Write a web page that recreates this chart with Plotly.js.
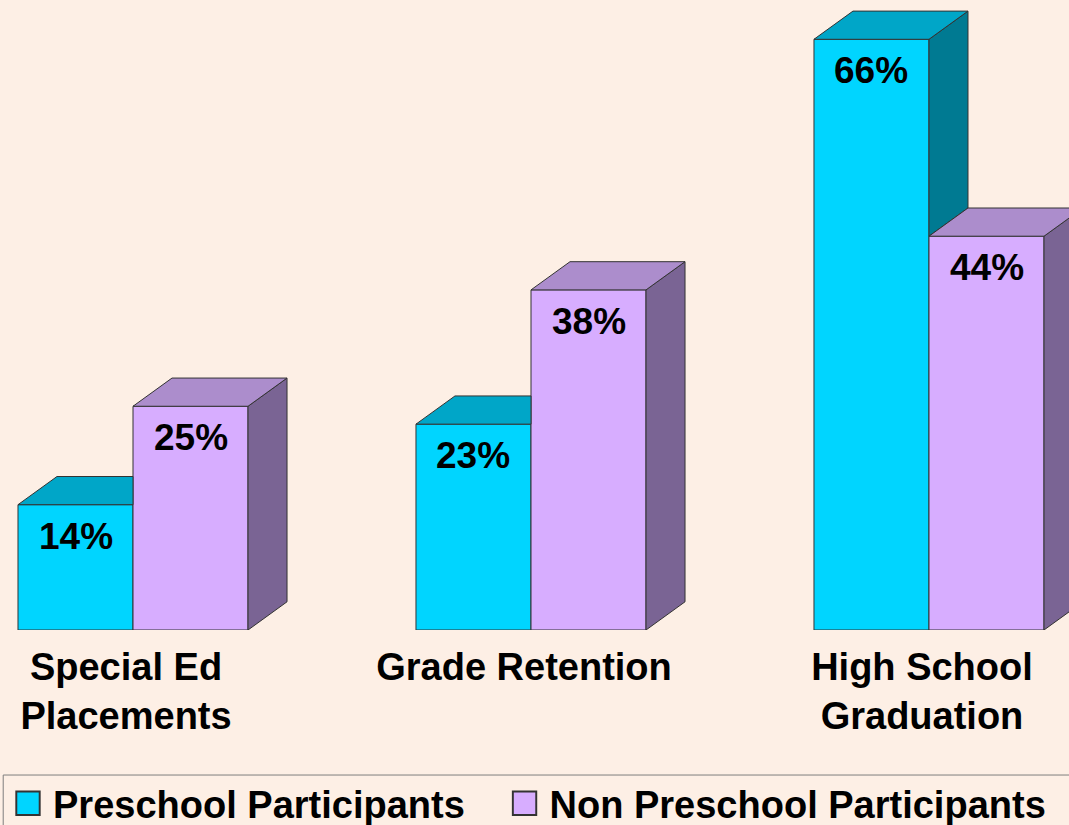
<!DOCTYPE html>
<html>
<head>
<meta charset="utf-8">
<script src="https://cdn.plot.ly/plotly-3.0.1.min.js"></script>
<style>
  html, body { margin: 0; padding: 0; background: #FDEFE5; }
  #chart { width: 1069px; height: 825px; }
</style>
</head>
<body>
<div id="chart"></div>
<script>
// ---- data ----
const categories = ['Special Ed<br>Placements', 'Grade Retention', 'High School<br>Graduation'];
const seriesNames = ['Preschool Participants', 'Non Preschool Participants'];
const preschool = [14, 23, 66];
const nonPreschool = [25, 38, 44];

// ---- style / geometry constants ----
const FONT = 'Liberation Sans, Arial, sans-serif';
const BG = '#FDEFE5';
const EDGE = '#333333';
const BAR_W = 0.289;     // width of each front face (axis units)
const DEPTH_X = 0.098;   // 3D depth offset in x (axis units)
const DEPTH_Y = 3.15;    // 3D depth offset in y (axis units)
const colors = {
  pre:  { front: '#00D5FF', top: '#00A6C8', side: '#007A92' },
  non:  { front: '#D7ADFF', top: '#AC8DCC', side: '#7A6494' }
};

const idx = categories.map((_, i) => i);

function polyTrace(polys, color) {
  const xs = [], ys = [];
  polys.forEach(p => {
    p.forEach(pt => { xs.push(pt[0]); ys.push(pt[1]); });
    xs.push(p[0][0]); ys.push(p[0][1]);
    xs.push(null); ys.push(null);
  });
  return {
    type: 'scatter', mode: 'lines', x: xs, y: ys,
    fill: 'toself', fillcolor: color,
    line: { color: EDGE, width: 1 },
    hoverinfo: 'skip', showlegend: false, connectgaps: false
  };
}

const preSides = [], preTops = [], nonSides = [], nonTops = [];
idx.forEach(i => {
  const x0 = i - BAR_W, x1 = i, x2 = i + BAR_W;
  const v1 = preschool[i], v2 = nonPreschool[i];
  // preschool side: only the part above the neighbouring bar is visible
  if (v1 > v2) {
    preSides.push([[x1, v2], [x1 + DEPTH_X, v2 + DEPTH_Y], [x1 + DEPTH_X, v1 + DEPTH_Y], [x1, v1]]);
    preTops.push([[x0, v1], [x0 + DEPTH_X, v1 + DEPTH_Y], [x1 + DEPTH_X, v1 + DEPTH_Y], [x1, v1]]);
  } else {
    preTops.push([[x0, v1], [x0 + DEPTH_X, v1 + DEPTH_Y], [x1, v1 + DEPTH_Y], [x1, v1]]);
  }
  nonSides.push([[x2, 0], [x2 + DEPTH_X, DEPTH_Y], [x2 + DEPTH_X, v2 + DEPTH_Y], [x2, v2]]);
  nonTops.push([[x1, v2], [x1 + DEPTH_X, v2 + DEPTH_Y], [x2 + DEPTH_X, v2 + DEPTH_Y], [x2, v2]]);
});

const traces = [
  {
    type: 'bar', name: seriesNames[0], x: idx, y: preschool,
    width: BAR_W, offset: -BAR_W, legend: 'legend',
    marker: { color: colors.pre.front, line: { color: EDGE, width: 1 } },
    hoverinfo: 'y+name'
  },
  {
    type: 'bar', name: seriesNames[1], x: idx, y: nonPreschool,
    width: BAR_W, offset: 0, legend: 'legend2',
    marker: { color: colors.non.front, line: { color: EDGE, width: 1 } },
    hoverinfo: 'y+name'
  },
  polyTrace(preSides, colors.pre.side),
  polyTrace(preTops, colors.pre.top),
  polyTrace(nonSides, colors.non.side),
  polyTrace(nonTops, colors.non.top)
];

const valueFont = { family: FONT, size: 37, color: '#000000', weight: 'bold' };
const labelFont = { family: FONT, size: 38, color: '#000000', weight: 'bold' };
const annotations = [];
idx.forEach(i => {
  annotations.push({
    x: i - BAR_W / 2, y: preschool[i], xref: 'x', yref: 'y',
    text: preschool[i] + '%', showarrow: false,
    yanchor: 'top', yshift: -9, font: valueFont
  });
  annotations.push({
    x: i + BAR_W / 2, y: nonPreschool[i], xref: 'x', yref: 'y',
    text: nonPreschool[i] + '%', showarrow: false,
    yanchor: 'top', yshift: -9, font: valueFont
  });
});

const legendBase = {
  orientation: 'h', xanchor: 'left', y: -0.2254, yanchor: 'top',
  bgcolor: 'rgba(0,0,0,0)', borderwidth: 0,
  font: labelFont, itemwidth: 40
};

const layout = {
  width: 1069, height: 825,
  paper_bgcolor: BG, plot_bgcolor: BG,
  margin: { l: 0, r: 0, t: 0, b: 195, autoexpand: false },
  font: { family: FONT, size: 38, color: '#000000', weight: 'bold' },
  barmode: 'overlay',
  showlegend: true,
  xaxis: {
    range: [-0.3342, 2.3518],
    tickmode: 'array', tickvals: idx, ticktext: categories,
    ticks: '', showgrid: false, zeroline: false, showline: false,
    ticklabelshift: -7, ticklabelstandoff: 11,
    tickfont: labelFont, fixedrange: true
  },
  yaxis: {
    range: [0, 70.39],
    showticklabels: false, ticks: '', showgrid: false, zeroline: false, showline: false,
    fixedrange: true
  },
  legend: Object.assign({}, legendBase, { x: 0.0028 }),
  legend2: Object.assign({}, legendBase, { x: 0.4673 }),
  shapes: [{
    type: 'rect', xref: 'paper', yref: 'paper',
    x0: 0.003, x1: 1.02, y0: -0.2302, y1: -0.40,
    line: { color: '#7F7F7F', width: 1 }, fillcolor: 'rgba(0,0,0,0)', layer: 'below'
  }],
  annotations: annotations
};

Plotly.newPlot('chart', traces, layout, { displayModeBar: false, staticPlot: true }).then(gd => {
  // enlarge the legend swatches to match the reference's larger squares
  gd.querySelectorAll('.legendpoints path').forEach(p => {
    const t = p.getAttribute('transform') || '';
    p.setAttribute('transform', (t + ' scale(1.95)').trim());
  });
});
</script>
</body>
</html>
